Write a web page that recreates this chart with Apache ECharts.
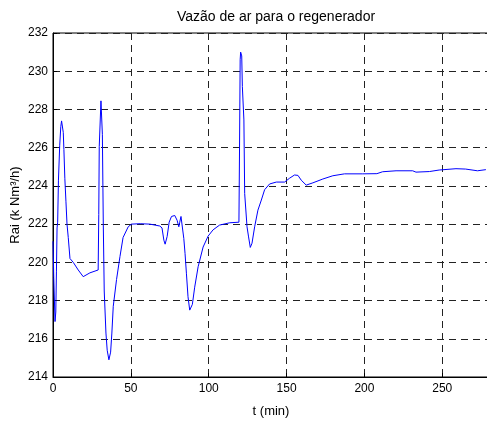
<!DOCTYPE html>
<html>
<head>
<meta charset="utf-8">
<script src="https://cdn.jsdelivr.net/npm/echarts@6/dist/echarts.min.js"></script>
<style>html,body{margin:0;padding:0;background:#fff;}#c{width:487px;height:422px;}</style>
</head>
<body>
<div id="c"></div>
<script>
const title = "Vazão de ar para o regenerador";
const xName = "t (min)";
const yName = "Rai (k Nm³/h)";
const xTicks = [0, 50, 100, 150, 200, 250];
const yTicks = [214, 216, 218, 220, 222, 224, 226, 228, 230, 232];

const tMin = [0, 0.5, 1.3, 1.8, 2.2, 2.6, 3.0, 3.5, 4.3, 5.0, 5.5, 6.0, 6.6, 7.0, 7.6, 8.3, 9.0, 9.8, 10.9, 13, 16.2, 19.4, 23.7, 29.0, 29.4, 29.7, 30.3, 30.8, 31.3, 31.7, 32.3, 32.9, 34.0, 34.8, 35.9, 37.0, 37.8, 38.7, 40.8, 43.0, 45.0, 48.3, 50.4, 56, 62.2, 68.6, 70.0, 71.2, 72.0, 73.3, 74.6, 76.1, 78.2, 79.7, 80.8, 81.4, 82.2, 82.8, 84.0, 84.8, 85.7, 86.7, 87.8, 88.5, 89.5, 91.0, 93.2, 96.4, 99.6, 102.8, 107.0, 113.5, 119.4, 119.8, 120.2, 120.5, 121.2, 121.6, 122.2, 122.6, 123.1, 123.8, 124.6, 125.6, 126.7, 127.8, 129.5, 131.6, 133.8, 135.9, 139.1, 143.4, 148.7, 151.9, 155.1, 156.2, 157.3, 159.4, 162.6, 166.9, 173.3, 179.7, 187.2, 198.9, 208, 211.7, 220.3, 231, 233.1, 241.7, 248.0, 258.8, 265, 272.6, 278];
const rai = [221.1, 219.2, 216.9, 217.4, 219.5, 221.8, 222.1, 224.3, 226.1, 227.1, 227.4, 227.4, 226.8, 225.9, 224.4, 223.2, 222.0, 221.3, 220.2, 220.0, 219.6, 219.25, 219.45, 219.6, 222.5, 226.05, 226.1, 228.45, 228.4, 226.7, 222.0, 218.5, 216.3, 215.4, 214.9, 215.3, 216.3, 217.7, 219.1, 220.3, 221.3, 221.86, 222.0, 222.02, 222.0, 221.9, 221.8, 221.16, 220.95, 221.35, 222.1, 222.4, 222.45, 222.2, 221.86, 222.1, 222.4, 222.35, 221.25, 220.47, 219.4, 218.2, 217.5, 217.4, 217.8, 218.7, 219.77, 220.8, 221.37, 221.7, 221.95, 222.07, 222.1, 226.0, 230.6, 231.0, 230.8, 229.2, 229.1, 227.45, 223.6, 223.5, 221.86, 221.33, 220.78, 221.0, 221.86, 222.73, 223.26, 223.8, 224.1, 224.2, 224.2, 224.4, 224.57, 224.6, 224.55, 224.3, 224.04, 224.16, 224.36, 224.53, 224.63, 224.63, 224.64, 224.74, 224.79, 224.79, 224.72, 224.75, 224.83, 224.9, 224.88, 224.79, 224.85];

const chart = echarts.init(document.getElementById('c'), null, {renderer: 'canvas'});
const font = 'Liberation Sans, Arial, sans-serif';
const gridStyle = {lineStyle: {color: '#222', type: [7, 5], width: 1}};
chart.setOption({
  animation: false,
  backgroundColor: '#fff',
  title: {
    text: title, left: 271, top: 5, textAlign: 'center',
    textStyle: {fontFamily: font, fontSize: 14, fontWeight: 'normal', color: '#000'}
  },
  grid: {left: 53, right: -2, top: 33, bottom: 45, show: true, borderColor: '#000', borderWidth: 1,
    containLabel: false, outerBoundsMode: 'none'},
  xAxis: {
    type: 'value', min: 0, max: 280, interval: 50,
    name: xName, nameLocation: 'middle', nameGap: 28, nameMoveOverlap: false,
    nameTextStyle: {fontFamily: font, fontSize: 13, color: '#000'},
    axisLine: {show: true, onZero: false, lineStyle: {color: '#000', width: 1}},
    axisTick: {show: true, inside: true, length: 4, lineStyle: {color: '#000'}},
    axisLabel: {fontFamily: font, fontSize: 12, color: '#000', margin: 6, showMaxLabel: false,
      formatter: v => (xTicks.indexOf(v) >= 0 ? String(v) : '')},
    splitLine: Object.assign({show: true}, gridStyle)
  },
  yAxis: {
    type: 'value', min: 214, max: 232, interval: 2,
    name: yName, nameLocation: 'middle', nameGap: 31, nameMoveOverlap: false,
    nameTextStyle: {fontFamily: font, fontSize: 13, color: '#000'},
    axisLine: {show: true, onZero: false, lineStyle: {color: '#000', width: 1}},
    axisTick: {show: true, inside: true, length: 4, lineStyle: {color: '#000'}},
    axisLabel: {fontFamily: font, fontSize: 12, color: '#000', margin: 5,
      formatter: v => (yTicks.indexOf(v) >= 0 ? String(v) : '')},
    splitLine: Object.assign({show: true}, gridStyle)
  },
  series: [{
    type: 'line', showSymbol: false, symbol: 'none',
    data: tMin.map((t, i) => [t, rai[i]]),
    lineStyle: {color: '#0000ff', width: 1},
    clip: true
  }]
});
</script>
</body>
</html>
